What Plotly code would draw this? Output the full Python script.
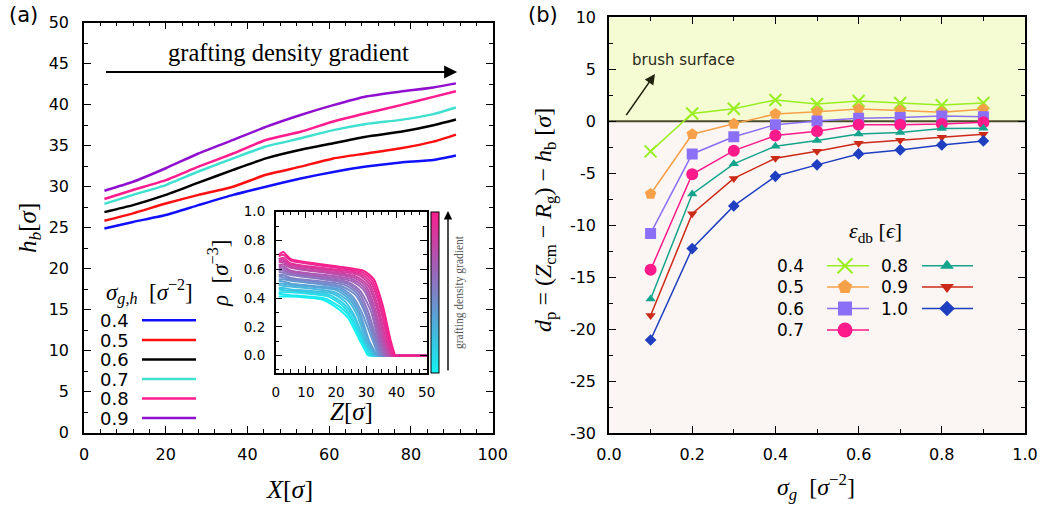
import plotly.graph_objects as go
from plotly.colors import sample_colorscale

W, H = 1040, 507

# ---------------- panel (a): brush height along the gradient ----------------
x_pos = [5, 12, 20, 28, 36.5, 44.5, 53, 61, 69, 77.5, 85.5, 91]
sigma_gh = ["0.4", "0.5", "0.6", "0.7", "0.8", "0.9"]
hb_04 = [24.9, 25.7, 26.55, 27.75, 29.0, 30.0, 31.0, 31.8, 32.45, 32.95, 33.25, 33.8]
hb_05 = [25.85, 26.75, 27.95, 29.0, 30.0, 31.45, 32.45, 33.45, 34.05, 34.7, 35.5, 36.35]
hb_06 = [26.9, 27.75, 29.0, 30.5, 32.05, 33.45, 34.5, 35.3, 36.1, 36.7, 37.5, 38.2]
hb_07 = [27.9, 29.0, 30.2, 31.85, 33.45, 34.9, 35.9, 36.9, 37.65, 38.15, 38.85, 39.65]
hb_08 = [28.5, 29.6, 30.8, 32.45, 34.05, 35.7, 36.7, 37.95, 38.95, 39.95, 40.95, 41.65]
hb_09 = [29.5, 30.6, 32.25, 34.05, 35.7, 37.3, 38.75, 39.95, 41.0, 41.6, 42.1, 42.6]
hb_series = [hb_04, hb_05, hb_06, hb_07, hb_08, hb_09]
hb_colors = ["#1010ff", "#ff1010", "#000000", "#40e0d0", "#ff1c8e", "#9010d0"]

# ---------------- inset: density profiles rho(Z) ----------------
rho_wall = [0.41, 0.43, 0.44, 0.46, 0.47, 0.49, 0.50, 0.52, 0.53, 0.55, 0.56,
            0.58, 0.59, 0.61, 0.62, 0.63, 0.65, 0.66, 0.67, 0.69, 0.70]
rho_peak = [0.41, 0.425, 0.44, 0.455, 0.47, 0.485, 0.50, 0.515, 0.53, 0.545, 0.56,
            0.575, 0.59, 0.605, 0.62, 0.635, 0.65, 0.665, 0.68, 0.70, 0.72]
rho_five = [0.41, 0.42, 0.44, 0.45, 0.46, 0.48, 0.49, 0.50, 0.52, 0.53, 0.54,
            0.56, 0.57, 0.58, 0.59, 0.61, 0.62, 0.63, 0.64, 0.66, 0.67]
z_knee = [16.0, 16.5, 17.5, 18.0, 19.0, 19.5, 20.0, 21.0, 21.5, 22.0, 23.0,
          23.5, 24.0, 25.0, 25.5, 26.0, 26.5, 27.5, 28.0, 28.5, 29.0]
rho_knee = [0.385, 0.395, 0.41, 0.42, 0.43, 0.44, 0.455, 0.46, 0.47, 0.48, 0.49,
            0.50, 0.51, 0.52, 0.53, 0.54, 0.55, 0.56, 0.57, 0.58, 0.59]
z_shoulder = [21.0, 21.5, 22.0, 22.5, 23.0, 24.0, 24.5, 25.0, 25.5, 26.5, 27.0,
              27.5, 28.0, 29.0, 29.5, 30.0, 30.5, 31.0, 31.5, 32.0, 32.5]
rho_shoulder = [0.32, 0.335, 0.35, 0.36, 0.375, 0.38, 0.39, 0.40, 0.41, 0.42, 0.43,
                0.44, 0.45, 0.46, 0.47, 0.48, 0.49, 0.50, 0.51, 0.52, 0.53]
z_half = [24.0, 24.5, 25.0, 25.5, 26.0, 27.0, 27.5, 28.0, 28.5, 29.5, 30.0,
          30.5, 31.5, 32.0, 32.5, 33.0, 33.5, 34.0, 34.5, 35.0, 35.5]
rho_half = [0.26, 0.27, 0.27, 0.28, 0.28, 0.28, 0.29, 0.29, 0.30, 0.30, 0.30,
            0.31, 0.31, 0.32, 0.32, 0.32, 0.33, 0.33, 0.34, 0.34, 0.345]
z_toe = [28.0, 28.5, 29.0, 29.5, 29.5, 30.0, 30.5, 31.0, 32.0, 32.5, 33.0,
         33.5, 34.0, 34.5, 35.0, 35.5, 36.0, 36.5, 37.0, 37.5, 38.0]
rho_toe = [0.10, 0.10, 0.10, 0.10, 0.10, 0.10, 0.10, 0.10, 0.11, 0.11, 0.11,
           0.11, 0.11, 0.11, 0.11, 0.11, 0.11, 0.11, 0.11, 0.11, 0.11]
z_edge = [30.5, 31.0, 31.5, 32.0, 32.5, 33.0, 33.5, 33.5, 34.0, 34.5, 35.0,
          35.5, 36.0, 36.5, 37.0, 37.5, 38.0, 38.5, 38.5, 39.0, 39.5]
z_box_end = 50

# ---------------- panel (b): penetration depth ----------------
sigma_g = [0.1, 0.2, 0.3, 0.4, 0.5, 0.6, 0.7, 0.8, 0.9]
eps_db = ["0.4", "0.5", "0.6", "0.7", "0.8", "0.9", "1.0"]
dp_04 = [-2.9, 0.75, 1.2, 2.05, 1.65, 1.95, 1.75, 1.55, 1.75]
dp_05 = [-7.0, -1.25, -0.25, 0.7, 0.9, 1.18, 1.02, 0.87, 1.15]
dp_06 = [-10.8, -3.15, -1.5, -0.33, 0.03, 0.29, 0.35, 0.51, 0.44]
dp_07 = [-14.3, -5.1, -2.83, -1.38, -0.96, -0.33, -0.33, -0.26, -0.1]
dp_08 = [-17.1, -7.0, -4.1, -2.4, -1.86, -1.22, -1.09, -0.71, -0.67]
dp_09 = [-18.7, -8.9, -5.5, -3.56, -2.9, -2.12, -1.83, -1.54, -1.25]
dp_10 = [-21.05, -12.25, -8.15, -5.3, -4.2, -3.15, -2.76, -2.28, -1.9]
dp_series = [dp_04, dp_05, dp_06, dp_07, dp_08, dp_09, dp_10]
dp_colors = ["#99ee22", "#f7a04a", "#8c6ff7", "#ff1a8c", "#14a48c", "#cc2a18", "#1f3fc0"]
dp_symbols = ["x-thin", "pentagon", "square", "circle", "triangle-up", "triangle-down", "diamond"]
dp_sizes = [12, 12, 11, 12, 9, 9, 9]

yb_ticks = [-30, -25, -20, -15, -10, -5, 0, 5, 10]
yb_ticktext = ["-30", "-25", "-20", "-15", "-10", "-5", "0", "5", "10"]


def fx(p):
    return p / W


def fy(p):
    return 1 - p / H


SANS = "DejaVu Sans"
SERIF = "Liberation Serif"

fig = go.Figure()

# panel (a) curves
for name, vals, col in zip(sigma_gh, hb_series, hb_colors):
    fig.add_trace(go.Scatter(x=x_pos, y=vals, mode="lines", name=name,
                             line=dict(color=col, width=2.5, shape="spline", smoothing=0.5),
                             xaxis="x", yaxis="y", showlegend=False))

# inset profiles, cyan (lowest grafting) to pink (highest)
cscale = [[0.0, "#12f2f2"], [0.35, "#5aa2d6"], [0.65, "#a062b8"], [1.0, "#f81e8c"]]
n_prof = len(rho_wall)
prof_cols = sample_colorscale(cscale, [k / (n_prof - 1) for k in range(n_prof)])
for k in range(n_prof):
    zs = [1.0, 2.5, 5.0, z_knee[k], z_shoulder[k], z_half[k], z_toe[k], z_edge[k]]
    rs = [rho_wall[k], rho_peak[k], rho_five[k], rho_knee[k], rho_shoulder[k],
          rho_half[k], rho_toe[k], 0.0]
    fig.add_trace(go.Scatter(x=zs, y=rs, mode="lines",
                             line=dict(color=prof_cols[k], width=2.0, shape="spline", smoothing=0.6),
                             xaxis="x3", yaxis="y3", showlegend=False, hoverinfo="skip"))
    # depleted region beyond the brush edge
    fig.add_trace(go.Scatter(x=[z_edge[k], z_box_end], y=[0.0, 0.0], mode="lines",
                             line=dict(color=prof_cols[k], width=1.7),
                             xaxis="x3", yaxis="y3", showlegend=False, hoverinfo="skip"))

# colour bar for the inset
fig.add_trace(go.Scatter(
    x=[1.0] * n_prof, y=rho_wall, mode="markers", xaxis="x3", yaxis="y3", showlegend=False,
    hoverinfo="skip",
    marker=dict(size=1, opacity=0, color=[k / (n_prof - 1) for k in range(n_prof)],
                colorscale=cscale, cmin=0, cmax=1, showscale=True,
                colorbar=dict(x=fx(430.5), xanchor="left", y=fy(292), yanchor="middle",
                              len=161 / H, lenmode="fraction", thickness=8,
                              thicknessmode="pixels", outlinecolor="black", outlinewidth=1,
                              showticklabels=False, ticks="", xpad=0, ypad=0)),
))

# panel (b) curves
for name, vals, col, sym, sz in zip(eps_db, dp_series, dp_colors, dp_symbols, dp_sizes):
    mk = dict(color=col, symbol=sym, size=sz)
    if sym == "x-thin":
        mk["line"] = dict(color=col, width=2)
    fig.add_trace(go.Scatter(x=sigma_g, y=vals, mode="lines+markers", name=name,
                             line=dict(color=col, width=1.5), marker=mk,
                             xaxis="x2", yaxis="y2", showlegend=False))

# ---------------- legends (drawn on a pixel-scaled overlay axis) ----------------
left_rows = [320.3, 340.0, 359.5, 379.0, 398.5, 418.0]
for name, col, yr in zip(sigma_gh, hb_colors, left_rows):
    fig.add_trace(go.Scatter(x=[142, 196], y=[yr, yr], mode="lines",
                             line=dict(color=col, width=2.5), xaxis="x4", yaxis="y4",
                             showlegend=False, hoverinfo="skip"))

right_rows = [265.7, 287.0, 308.5, 330.0]
right_slots = [(827, 869, 845, 806, right_rows[i]) for i in range(4)] + \
              [(922, 973, 947, 910, right_rows[i]) for i in range(3)]
for col, sym, sz, slot in zip(dp_colors, dp_symbols, dp_sizes, right_slots):
    x0, x1, xm, _, yr = slot
    fig.add_trace(go.Scatter(x=[x0, x1], y=[yr, yr], mode="lines",
                             line=dict(color=col, width=1.5), xaxis="x4", yaxis="y4",
                             showlegend=False, hoverinfo="skip"))
    mk = dict(color=col, symbol=sym, size=sz + 3)
    if sym == "x-thin":
        mk["line"] = dict(color=col, width=2)
    fig.add_trace(go.Scatter(x=[xm], y=[yr], mode="markers", marker=mk,
                             xaxis="x4", yaxis="y4", showlegend=False, hoverinfo="skip"))

annotations = []


def txt(x, y, s, size, family=SANS, color="black", xanchor="center", angle=0):
    annotations.append(dict(x=x, y=y, xref="x4", yref="y4", text=s, showarrow=False,
                            xanchor=xanchor, yanchor="middle", textangle=angle,
                            font=dict(family=family, size=size, color=color)))


for name, yr in zip(sigma_gh, left_rows):
    txt(131, yr, name, 18, xanchor="right")
for name, slot in zip(eps_db, right_slots):
    txt(slot[3], slot[4], name, 17, xanchor="right")

txt(149, 292, "<i>σ<sub>g,h</sub></i>  [<i>σ</i><sup>−2</sup>]", 23, family=SERIF)
txt(875, 232, "<i>ε</i><sub>db</sub> [<i>ϵ</i>]", 22, family=SERIF)

# panel labels and axis titles
txt(23, 15, "(a)", 21)
txt(543, 15, "(b)", 21)
txt(289, 489, "<i>X</i>[<i>σ</i>]", 26, family=SERIF)
txt(29, 228, "<i>h<sub>b</sub></i>[<i>σ</i>]", 25, family=SERIF, angle=-90)
txt(545, 220, "<i>d</i><sub>p</sub> = (<i>Z</i><sub>cm</sub> − <i>R</i><sub>g</sub>) − <i>h</i><sub>b</sub> [<i>σ</i>]",
    24, family=SERIF, angle=-90)
txt(816, 487, "<i>σ<sub>g</sub></i>  [<i>σ</i><sup>−2</sup>]", 24, family=SERIF)
txt(351, 411, "<i>Z</i>[<i>σ</i>]", 25, family=SERIF)
txt(218, 274, "<i>ρ</i>  [<i>σ</i><sup>−3</sup>]", 23, family=SERIF, angle=-90)
txt(288, 52, "grafting density gradient", 24.5, family=SERIF)
txt(459, 292, "grafting density gradient", 11.5, family=SERIF, color="#555555", angle=-90)
txt(683, 60, "brush surface", 15, color="#2a2a1a")

# arrows
annotations.append(dict(x=91.3, y=44.0, ax=5, ay=44.0, xref="x", yref="y", axref="x", ayref="y",
                        text="", showarrow=True, arrowhead=2, arrowsize=1.3, arrowwidth=2,
                        arrowcolor="black"))
annotations.append(dict(x=0.1106, y=4.55, ax=0.039, ay=0.44, xref="x2", yref="y2",
                        axref="x2", ayref="y2", text="", showarrow=True, arrowhead=2,
                        arrowsize=1.3, arrowwidth=1.6, arrowcolor="#22220f"))
annotations.append(dict(x=448, y=211, ax=448, ay=372, xref="x4", yref="y4",
                        axref="x4", ayref="y4", text="", showarrow=True, arrowhead=2,
                        arrowsize=1.2, arrowwidth=1.4, arrowcolor="black"))

shapes = [
    dict(type="rect", xref="x2 domain", yref="y2", x0=0, x1=1, y0=0, y1=10,
         fillcolor="#f5fbd2", line=dict(width=0), layer="below"),
    dict(type="rect", xref="x2 domain", yref="y2", x0=0, x1=1, y0=-30, y1=0,
         fillcolor="#fbf6f3", line=dict(width=0), layer="below"),
    dict(type="line", xref="x2 domain", yref="y2", x0=0, x1=1, y0=0, y1=0,
         line=dict(color="#4b4b2b", width=2), layer="below"),
]


def frame_axis(domain, rng, dtick, minor_dtick, font_size, **kw):
    d = dict(domain=domain, range=rng, showline=True, linecolor="black", linewidth=1.5,
             mirror="ticks", ticks="inside", ticklen=7, tickwidth=1, tickcolor="black",
             showgrid=False, zeroline=False, dtick=dtick, tick0=0,
             minor=dict(ticks="inside", ticklen=4, tickwidth=1, tickcolor="black",
                        dtick=minor_dtick, showgrid=False),
             tickfont=dict(family=SANS, size=font_size, color="black"),
             fixedrange=True, automargin=False)
    d.update(kw)
    return d


layout = dict(
    width=W, height=H,
    margin=dict(l=0, r=0, t=0, b=0, pad=0),
    paper_bgcolor="white", plot_bgcolor="rgba(0,0,0,0)",
    showlegend=False,
    xaxis=frame_axis([fx(84), fx(492.7)], [0, 100], 20, 4, 16, anchor="y", ticklabelstandoff=6),
    yaxis=frame_axis([fy(432.7), fy(22.7)], [0, 50], 5, 2.5, 16, anchor="x", ticklabelstandoff=10),
    xaxis2=frame_axis([fx(609), fx(1025)], [0, 1], 0.2, 0.1, 16, anchor="y2",
                      tickformat=".1f", ticklabelstandoff=6),
    yaxis2=frame_axis([fy(433), fy(17.3)], [-30, 10], 5, 2.5, 16, anchor="x2",
                      tickmode="array", tickvals=yb_ticks, ticktext=yb_ticktext,
                      ticklabelstandoff=8),
    xaxis3=frame_axis([fx(275.7), fx(426.7)], [0, 50], 10, 2.5, 13.5, anchor="y3",
                      ticklabelstandoff=6),
    yaxis3=frame_axis([fy(372.7), fy(211.7)], [-0.119, 1.0], 0.2, 0.1, 13.5, anchor="x3",
                      tickformat=".1f", ticklabelstandoff=6),
    xaxis4=dict(domain=[0, 1], range=[0, W], visible=False, fixedrange=True, anchor="y4"),
    yaxis4=dict(domain=[0, 1], range=[H, 0], visible=False, fixedrange=True, anchor="x4"),
    annotations=annotations,
    shapes=shapes,
)
fig.update_layout(**layout)

fig.write_html("out.html")
